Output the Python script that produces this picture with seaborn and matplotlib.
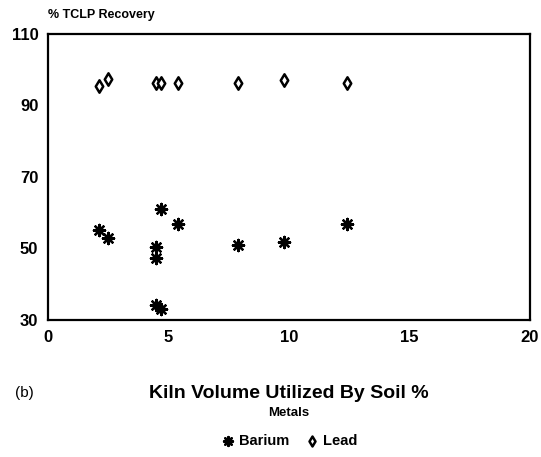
import pandas as pd
import matplotlib.pyplot as plt
import seaborn as sns

# values
barium_x = [2.1, 2.5, 4.7, 5.4, 4.5, 4.5, 7.9, 4.5, 4.7, 9.8, 12.4]
barium_y = [55.2, 53.0, 61.0, 56.9, 50.3, 47.3, 51.0, 34.2, 33.0, 51.9, 56.9]
lead_x = [2.1, 2.5, 4.5, 4.7, 5.4, 7.9, 9.8, 12.4]
lead_y = [95.5, 97.3, 96.3, 96.3, 96.3, 96.3, 97.1, 96.3]

df_ba = pd.DataFrame({"kiln": barium_x, "recovery": barium_y})
df_pb = pd.DataFrame({"kiln": lead_x, "recovery": lead_y})

sns.set_style("white")
plt.rcParams["font.family"] = ["Liberation Sans", "DejaVu Sans"]
plt.rcParams["text.color"] = "black"
plt.rcParams["xtick.color"] = "black"
plt.rcParams["ytick.color"] = "black"

fig = plt.figure(figsize=(5.41, 4.57), dpi=100)
ax = fig.add_axes([0.0887, 0.2998, 0.891, 0.6258])

sns.scatterplot(data=df_ba, x="kiln", y="recovery", ax=ax,
                marker=(8, 2, 0), s=65, color="black", linewidth=1.7,
                label="Barium")
sns.scatterplot(data=df_pb, x="kiln", y="recovery", ax=ax,
                marker="d", s=40, facecolor="white", edgecolor="black",
                linewidth=1.8, label="Lead")

ax.set_xlim(0, 20)
ax.set_ylim(30, 110)
ax.set_xticks([0, 5, 10, 15, 20])
ax.set_yticks([30, 50, 70, 90, 110])
ax.tick_params(direction="in", length=7, width=1.2, labelsize=12, pad=7)
for lab in ax.get_xticklabels() + ax.get_yticklabels():
    lab.set_fontweight("bold")

for sp in ax.spines.values():
    sp.set_color("black")
    sp.set_linewidth(1.6)

ax.set_xlabel("")
ax.set_ylabel("")
fig.text(0.0887, 0.955, "% TCLP Recovery", fontsize=9, fontweight="bold",
         ha="left", va="bottom")
fig.text(0.534, 0.14, "Kiln Volume Utilized By Soil %", fontsize=14,
         fontweight="bold", ha="center", va="center")
fig.text(0.045, 0.14, "(b)", fontsize=11, ha="center", va="center")

leg = ax.legend(title="Metals", ncol=2, frameon=False, loc="center",
                bbox_to_anchor=(0.5, -0.375), fontsize=10.5,
                title_fontproperties={"weight": "bold", "size": 9.5},
                handletextpad=0.3, columnspacing=1.0, handlelength=1.0,
                markerscale=0.8)
leg._legend_box.sep = 11
for t in leg.get_texts():
    t.set_fontweight("bold")

plt.savefig("out.png", dpi=100)
